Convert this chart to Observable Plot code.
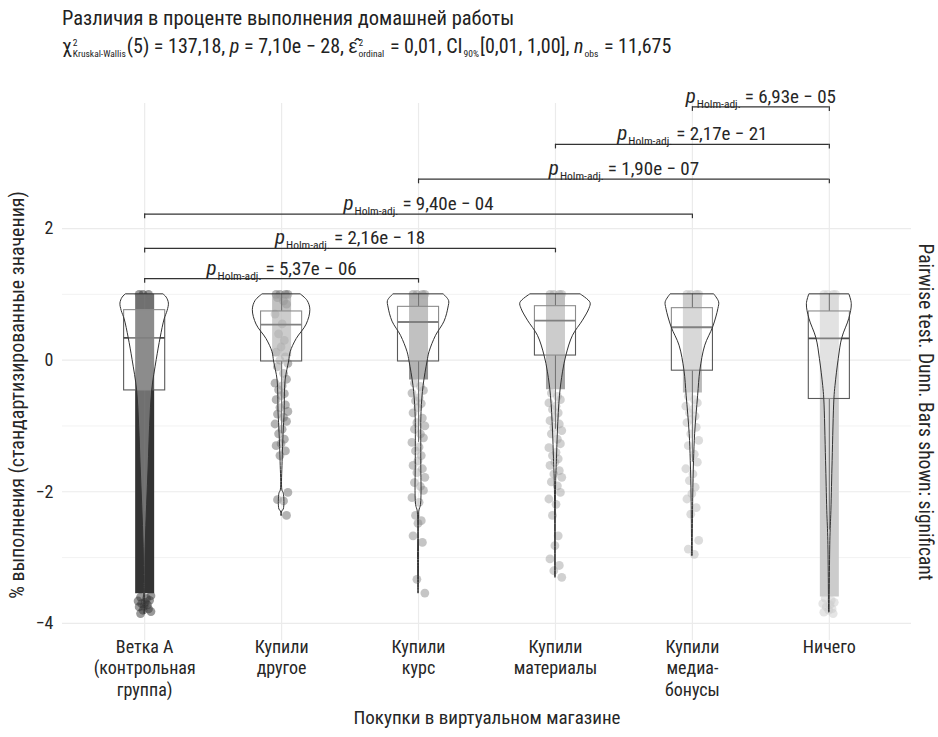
<!DOCTYPE html>
<html>
<head>
<meta charset="utf-8">
<script src="https://cdn.jsdelivr.net/npm/d3@7"></script>
<script src="https://cdn.jsdelivr.net/npm/@observablehq/plot@0.6"></script>
<style>
  body { margin: 0; background: #fff; font-family: "Roboto Condensed", "Liberation Sans Narrow", Roboto, sans-serif; color: #222; }
  #head { height: 66px; box-sizing: border-box; padding: 6px 0 0 62px; }
  .t1 { font-size: 20.5px; line-height: 24px; }
  .t2 { font-size: 20px; line-height: 32px; white-space: nowrap; }
  .ss { display: inline-flex; flex-direction: column; vertical-align: 7px; font-size: 9.5px; line-height: 11px; margin: 0 1px; }
  #chart svg { display: block; }
</style>
</head>
<body>
<div id="head">
  <div class="t1">Различия в проценте выполнения домашней работы</div>
  <div class="t2">χ<span class="ss"><span>2</span><span>Kruskal-Wallis</span></span>(5) = 137,18, <i>p</i> = 7,10e − 28, ε̂<span class="ss"><span>2</span><span>ordinal</span></span> = 0,01, CI<span class="ss"><span>&nbsp;</span><span>90%</span></span>[0,01, 1,00], <i>n</i><span class="ss"><span>&nbsp;</span><span>obs</span></span> = 11,675</div>
</div>
<div id="chart"></div>
<script>
// Groups (tick labels) of the virtual-shop purchase factor
const groups = [
  "Ветка А\n(контрольная\nгруппа)",
  "Купили\nдругое",
  "Купили\nкурс",
  "Купили\nматериалы",
  "Купили\nмедиа-\nбонусы",
  "Ничего"
];

// Box-plot statistics per group (standardised homework completion)
const q1 = [-0.46, -0.02, -0.02, 0.07, -0.16, -0.59];
const median = [0.34, 0.54, 0.58, 0.60, 0.50, 0.33];
const q3 = [0.76, 0.74, 0.81, 0.82, 0.79, 0.74];
const whiskerLow = [-2.30, -1.12, -1.25, -1.05, -1.55, -2.58];
const whiskerHigh = [1, 1, 1, 1, 1, 1];

// Range where the jittered points overlap into a solid column
const denseLow = [-3.55, 0.05, -0.30, -0.45, -0.50, -3.60];
const denseHigh = [1, 1, 1, 1, 1, 1];

// Individually visible observations per group
const pointsA = [1, 1, 1, -3.58, -3.6, -3.62, -3.65, -3.66, -3.68, -3.7, -3.72, -3.74, -3.75, -3.78, -3.8, -3.82, -3.85];
const pointsB = [1, 1, 1, 1, 0.95, 0.9, 0.85, 0.7, 0.55, 0.4, 0.3, 0.2, 0.12, 0.05, 0, -0.05, -0.1, -0.2, -0.29, -0.35, -0.39, -0.45, -0.51, -0.54, -0.6, -0.68, -0.72, -0.78, -0.82, -0.87, -0.93, -0.97, -1.05, -1.12, -1.2, -1.27, -1.3, -1.38, -1.45, -2.01, -2.12, -2.14, -2.36];
const pointsC = [1, 1, 1, 1, -0.35, -0.4, -0.46, -0.5, -0.57, -0.62, -0.66, -0.72, -0.8, -0.88, -0.95, -1.0, -1.05, -1.12, -1.18, -1.25, -1.32, -1.38, -1.45, -1.53, -1.6, -1.65, -1.71, -1.78, -1.86, -1.92, -1.98, -2.09, -2.16, -2.36, -2.44, -2.48, -2.67, -2.77, -3.33, -3.54];
const pointsD = [1, 1, 1, 1, -0.5, -0.55, -0.6, -0.65, -0.7, -0.75, -0.8, -0.87, -0.92, -0.97, -1.02, -1.07, -1.12, -1.2, -1.27, -1.33, -1.4, -1.45, -1.5, -1.55, -1.6, -1.68, -1.73, -1.78, -1.85, -1.91, -2.01, -2.11, -2.19, -2.36, -2.67, -2.82, -3.02, -3.12, -3.2, -3.3];
const pointsE = [1, 1, 1, 1, -0.55, -0.6, -0.65, -0.7, -0.75, -0.8, -0.85, -0.9, -0.95, -1.02, -1.12, -1.22, -1.3, -1.43, -1.55, -1.65, -1.73, -1.83, -1.93, -2.03, -2.11, -2.24, -2.34, -2.74, -2.87, -2.95];
const pointsF = [1, 1, 1, 1, -3.62, -3.65, -3.68, -3.7, -3.72, -3.75, -3.78, -3.8, -3.83, -3.85];

// Violin half-widths (in category units) at given values
const violinA = [[1.0, 0.137], [0.95, 0.161], [0.86, 0.177], [0.75, 0.168], [0.62, 0.146], [0.34, 0.117], [0, 0.088], [-0.46, 0.055], [-1.0, 0.040], [-1.63, 0.029], [-2.2, 0.018], [-2.84, 0.0073], [-3.4, 0.0044], [-3.85, 0.0022]];
const violinB = [[1.0, 0.139], [0.9, 0.190], [0.76, 0.210], [0.54, 0.183], [0.32, 0.110], [0.12, 0.066], [-0.02, 0.055], [-0.31, 0.029], [-0.81, 0.022], [-1.1, 0.015], [-1.55, 0.0073], [-1.98, 0.0058], [-2.03, 0.016], [-2.27, 0.016], [-2.3, 0.0044], [-2.36, 0.0029]];
const violinC = [[1.0, 0.183], [0.9, 0.223], [0.8, 0.219], [0.585, 0.190], [0.37, 0.128], [0.12, 0.080], [-0.02, 0.066], [-0.39, 0.037], [-0.79, 0.022], [-1.5, 0.020], [-2.2, 0.018], [-2.3, 0.0058], [-3.0, 0.0037], [-3.54, 0.0022]];
const violinD = [[1.0, 0.183], [0.87, 0.256], [0.78, 0.248], [0.6, 0.201], [0.37, 0.128], [0.07, 0.080], [-0.185, 0.055], [-0.54, 0.033], [-1.07, 0.018], [-1.5, 0.011], [-1.9, 0.0044], [-3.3, 0.0022]];
const violinE = [[1.0, 0.159], [0.88, 0.195], [0.78, 0.190], [0.5, 0.152], [0.22, 0.094], [-0.16, 0.058], [-0.54, 0.042], [-1.12, 0.020], [-1.53, 0.012], [-2.1, 0.0058], [-2.97, 0.0022]];
const violinF = [[1.0, 0.146], [0.85, 0.164], [0.63, 0.146], [0.33, 0.094], [0.02, 0.069], [-0.39, 0.045], [-0.59, 0.037], [-1.53, 0.024], [-2.29, 0.015], [-2.75, 0.0073], [-3.83, 0.0022]];

// Significant pairwise comparisons (Dunn test, Holm-adjusted)
const pairFrom = [0, 0, 0, 2, 3, 4];
const pairTo = [2, 3, 4, 5, 5, 5];
const pairP = ["5,37e − 06", "2,16e − 18", "9,40e − 04", "1,90e − 07", "2,17e − 21", "6,93e − 05"];
const bracketLevel = [1.24, 1.70, 2.22, 2.75, 3.28, 3.85];

// ---- presentation ----
const groupColor = ["#333333", "#6a6a6a", "#8b8b8b", "#a4a4a4", "#b9b9b9", "#cccccc"];
const denseOpacity = [1, 0.6, 0.95, 1, 1, 1];
const jitter = [-0.040, 0.028, -0.012, 0.046, -0.030, 0.014, 0.036, -0.048, 0.004, -0.022, 0.020, -0.004];

const idx = d3.range(groups.length);
const pointLists = [pointsA, pointsB, pointsC, pointsD, pointsE, pointsF];
const points = pointLists.flatMap((list, g) => list.map((v, i) => ({g, v, j: jitter[i % jitter.length]})));
const violins = [violinA, violinB, violinC, violinD, violinE, violinF]
  .flatMap((prof, g) => prof.map(([v, w]) => ({g, v, w})).sort((a, b) => a.v - b.v));
const pairs = d3.range(pairFrom.length);
const tip = 0.07;
const minus = d => (d < 0 ? "\u2212" : "") + Math.abs(d);

const textColor = "#262626";
const font = "'Roboto Condensed', 'Liberation Sans Narrow', Roboto, sans-serif";
const chart = Plot.plot({
  width: 938,
  height: 671,
  marginTop: 37,
  marginBottom: 97,
  marginLeft: 62,
  marginRight: 27,
  x: {type: "linear", domain: [-0.6, 5.6], axis: null},
  y: {domain: [-4.26, 3.90], axis: null},
  style: {fontFamily: font, fontSize: "18px", color: textColor, background: "#fff"},
  marks: [
    // grid
    Plot.ruleY([-3, -1, 1], {stroke: "#f2f2f2", strokeWidth: 1}),
    Plot.ruleY([-4, -2, 0, 2], {stroke: "#ebebeb", strokeWidth: 1.2}),
    Plot.ruleX(idx, {x: d => d, stroke: "#ebebeb", strokeWidth: 1.2}),
    // axes
    Plot.axisY([-4, -2, 0, 2], {tickSize: 0, tickPadding: 9, label: null, tickFormat: minus, fontSize: 18, fill: textColor}),
    Plot.axisX(idx, {tickSize: 0, tickPadding: -3, label: null, tickFormat: i => groups[i], lineHeight: 1.2, fontSize: 18, fill: textColor}),
    // overlapping jittered observations (solid column, then single dots)
    Plot.ruleX(idx, {x: d => d, y1: i => denseLow[i], y2: i => denseHigh[i], stroke: i => groupColor[i], strokeOpacity: i => denseOpacity[i], strokeWidth: 19}),
    Plot.dot(points, {x: d => d.g + d.j, y: "v", r: 4.4, fill: d => groupColor[d.g], fillOpacity: 0.5, stroke: null}),
    // box plots
    Plot.ruleX(idx, {x: d => d, y1: i => q3[i], y2: i => whiskerHigh[i], stroke: "#3a3a3a", strokeWidth: 1.1}),
    Plot.ruleX(idx, {x: d => d, y1: i => whiskerLow[i], y2: i => q1[i], stroke: "#3a3a3a", strokeWidth: 1.1}),
    Plot.rect(idx, {x1: i => i - 0.15, x2: i => i + 0.15, y1: i => q1[i], y2: i => q3[i], fill: "#fff", fillOpacity: 0.2, stroke: "#5a5a5a", strokeWidth: 1.1}),
    Plot.ruleY(idx, {x1: i => i - 0.15, x2: i => i + 0.15, y: i => median[i], stroke: "#4a4a4a", strokeWidth: 1.8}),
    // violins
    Plot.areaX(violins, {y: "v", x1: d => d.g - d.w, x2: d => d.g + d.w, z: "g", curve: "catmull-rom", fill: "#fff", fillOpacity: 0.3, stroke: "#333", strokeWidth: 1}),
    // significance brackets
    Plot.ruleY(pairs, {x1: i => pairFrom[i], x2: i => pairTo[i], y: i => bracketLevel[i], stroke: "#333", strokeWidth: 1.2}),
    Plot.ruleX(pairs, {x: i => pairFrom[i], y1: i => bracketLevel[i], y2: i => bracketLevel[i] - tip, stroke: "#333", strokeWidth: 1.2}),
    Plot.ruleX(pairs, {x: i => pairTo[i], y1: i => bracketLevel[i], y2: i => bracketLevel[i] - tip, stroke: "#333", strokeWidth: 1.2}),
    Plot.text(pairs, {x: i => (pairFrom[i] + pairTo[i]) / 2, y: i => bracketLevel[i], text: i => `p|Holm-adj.|= ${pairP[i]}`, lineAnchor: "bottom", dy: -4, fontSize: 19, fill: textColor}),
    // axis titles and test caption
    Plot.text(["Покупки в виртуальном магазине"], {frameAnchor: "bottom", textAnchor: "middle", dy: 83, fontSize: 19, fill: textColor}),
    Plot.text(["% выполнения (стандартизированные значения)"], {frameAnchor: "left", textAnchor: "middle", rotate: -90, dx: -45, dy: 23, fontSize: 20, fill: textColor}),
    Plot.text(["Pairwise test. Dunn. Bars shown: significant"], {frameAnchor: "right", textAnchor: "middle", rotate: 90, dx: 14, dy: 40, fontSize: 19.5, fill: textColor})
  ]
});

// p-value labels: italic p with a "Holm-adj." subscript
d3.select(chart).selectAll("text").filter(function() { return this.textContent.includes("|Holm-adj.|"); }).each(function() {
  const parts = this.textContent.split("|");
  const t = d3.select(this).text(null);
  t.append("tspan").attr("font-style", "italic").attr("font-size", 21).text(parts[0]);
  t.append("tspan").attr("font-size", 11.5).attr("dy", 5).attr("dx", 1).text(parts[1]);
  t.append("tspan").attr("dy", -5).attr("dx", 4).text(parts[2]);
});

document.getElementById("chart").append(chart);
</script>
</body>
</html>
